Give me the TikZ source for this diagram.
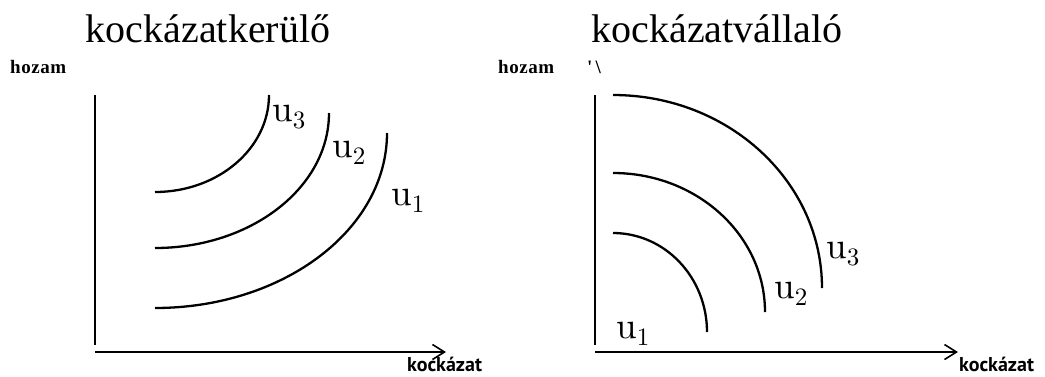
\documentclass[tikz,border=0pt]{standalone}
\usepackage{fontspec}
\setmainfont{Liberation Serif}
\newfontfamily\lmfont{lmroman10-regular.otf}
\newfontfamily\hzfont[LetterSpace=3]{Liberation Serif}
\newfontfamily\kzfont{PT Sans}
\usetikzlibrary{arrows.meta}
\newcommand{\ulab}[1]{{\lmfont\fontsize{37}{37}\selectfont u\raisebox{-7pt}{\fontsize{25}{25}\selectfont #1}}}
\tikzset{
  axis/.style={line width=2.2pt},
  xaxis/.style={axis,-{Straight Barb[length=12pt,width=15pt,line width=1.6pt]}},
  curve/.style={line width=2.3pt},
  title/.style={font=\fontsize{40}{40}\selectfont, anchor=base, inner sep=0pt},
  ylab/.style={font=\hzfont\bfseries\fontsize{19}{19}\selectfont, anchor=base west, inner sep=0pt},
  xlab/.style={font=\kzfont\bfseries\fontsize{20}{20}\selectfont, anchor=base west, inner sep=0pt},
  ulabel/.style={anchor=base west, inner sep=0pt},
}
\begin{document}
\begin{tikzpicture}[x=1pt,y=-1pt]
\useasboundingbox (0,0) rectangle (1045,376);
% ---------- left panel ----------
\node[title] (t1) at (208,42) {kockázatkerülő};
\node[ylab] (h1) at (10,73) {hozam};
\coordinate (Y1top) at (95,95);
\coordinate (Y1bot) at (95,345);
\coordinate (X1l) at (95,352);
\coordinate (X1r) at (446,352);
\draw[axis] (Y1top) -- (Y1bot);
\draw[xaxis] (X1l) -- (X1r);
\node[xlab] (k1) at (407,371) {kockázat};
\coordinate (a3) at (155,192);
\coordinate (a2) at (155,248);
\coordinate (a1) at (155,308);
\draw[curve] (a3) arc[start angle=270,end angle=360,x radius=114pt,y radius=97pt];
\draw[curve] (a2) arc[start angle=270,end angle=360,x radius=174pt,y radius=135pt];
\draw[curve] (a1) arc[start angle=270,end angle=360,x radius=232pt,y radius=175pt];
\node[ulabel] (lu3) at (272,121) {\ulab{3}};
\node[ulabel] (lu2) at (332,157) {\ulab{2}};
\node[ulabel] (lu1) at (391,205) {\ulab{1}};
% ---------- right panel ----------
\node[title] (t2) at (717,42) {kockázatvállaló};
\node[ylab] (h2) at (498,73) {hozam};
\node[ylab] (q2) at (587,73) {\textquotesingle\,\textbackslash};
\coordinate (Y2top) at (595,95);
\coordinate (Y2bot) at (595,345);
\coordinate (X2l) at (595,352);
\coordinate (X2r) at (958,352);
\draw[axis] (Y2top) -- (Y2bot);
\draw[xaxis] (X2l) -- (X2r);
\node[xlab] (k2) at (959,371) {kockázat};
\coordinate (b3) at (613,95);
\coordinate (b2) at (613,173);
\coordinate (b1) at (613,233);
\draw[curve] (b3) arc[start angle=90,end angle=0,x radius=209pt,y radius=193pt];
\draw[curve] (b2) arc[start angle=90,end angle=0,x radius=152pt,y radius=139pt];
\draw[curve] (b1) arc[start angle=90,end angle=0,x radius=94pt,y radius=99pt];
\node[ulabel] (ru3) at (826,258) {\ulab{3}};
\node[ulabel] (ru2) at (774,298) {\ulab{2}};
\node[ulabel] (ru1) at (616,338) {\ulab{1}};
\end{tikzpicture}
\end{document}
